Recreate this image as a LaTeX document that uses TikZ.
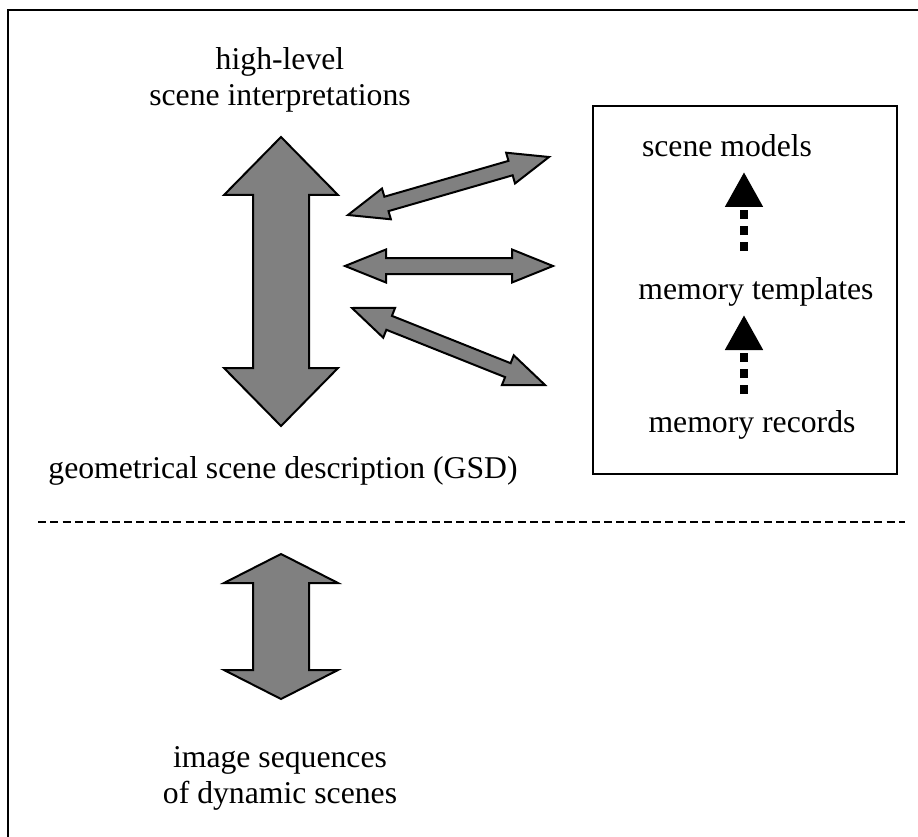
\documentclass[tikz,border=0pt]{standalone}
\usepackage{fontspec}
\setmainfont{Liberation Serif}
\usetikzlibrary{calc,arrows.meta}

% block arrow with two heads: tip, tip, shaft half width, head half width, head length
\newcommand{\dblarrow}[5]{%
  \coordinate (ha) at ($(#1)!#5!(#2)$);
  \coordinate (hb) at ($(#2)!#5!(#1)$);
  \filldraw[fatarrow] (#1)
    -- ($(ha)!#4!-90:(#2)$) -- ($(ha)!#3!-90:(#2)$)
    -- ($(hb)!#3!90:(#1)$) -- ($(hb)!#4!90:(#1)$)
    -- (#2)
    -- ($(hb)!#4!-90:(#1)$) -- ($(hb)!#3!-90:(#1)$)
    -- ($(ha)!#3!90:(#2)$) -- ($(ha)!#4!90:(#2)$) -- cycle;
}

\begin{document}
\begin{tikzpicture}[
    x=1pt, y=-1pt,
    font=\fontsize{31.7}{36}\selectfont,
    lbl/.style={align=center, inner sep=0pt},
    fatarrow/.style={draw=black, fill=gray, line width=2pt, line join=miter},
    memarrow/.style={line width=8pt, dash pattern=on 9pt off 7pt, -{Triangle[length=35pt,width=36pt]}},
    frameline/.style={line width=2pt},
    sepline/.style={line width=2pt, dash pattern=on 8pt off 4.3pt}
]
\useasboundingbox (0,0) rectangle (918,837);

% outer frame and separator
\draw[frameline] (8,837) -- (8,10) -- (918,10);
\draw[sepline] (38,522) -- (905,522);

% left column labels
\node[lbl] (interp) at (280,80) {high-level\\scene interpretations};
\node[lbl, anchor=base] (gsd) at (283,478) {geometrical scene description (GSD)};
\node[lbl] (images) at (280,778) {image sequences\\of dynamic scenes};

% memory box
\node[draw, line width=2pt, minimum width=304, minimum height=368, inner sep=0pt] (memory) at (745,290) {};
\node[lbl, anchor=base] (models) at (727,157) {scene models};
\node[lbl, anchor=base] (templates) at (756,299) {memory templates};
\node[lbl, anchor=base] (records) at (752,432) {memory records};

% arrow end points
\coordinate (gsdtop) at (281,137);
\coordinate (gsdbot) at (281,426);
\coordinate (imgtop) at (281,554);
\coordinate (imgbot) at (281,699);
\coordinate (upL) at (348,215);
\coordinate (upR) at (549,157);
\coordinate (midL) at (345,266);
\coordinate (midR) at (553,266);
\coordinate (lowL) at (352,308);
\coordinate (lowR) at (545,385);
\coordinate (recTop) at (744,394);
\coordinate (tplBot) at (744,315);
\coordinate (tplTop) at (744,251);
\coordinate (mdlBot) at (744,172);

% fat arrows
\dblarrow{gsdtop}{gsdbot}{28pt}{57pt}{58pt}
\dblarrow{imgtop}{imgbot}{28pt}{57pt}{29pt}
\dblarrow{upL}{upR}{7.5pt}{16pt}{40pt}
\dblarrow{midL}{midR}{8pt}{16.5pt}{41pt}
\dblarrow{lowL}{lowR}{7.5pt}{16pt}{40pt}

% memory hierarchy
\draw[memarrow] (recTop) -- (tplBot);
\draw[memarrow] (tplTop) -- (mdlBot);

\end{tikzpicture}
\end{document}
